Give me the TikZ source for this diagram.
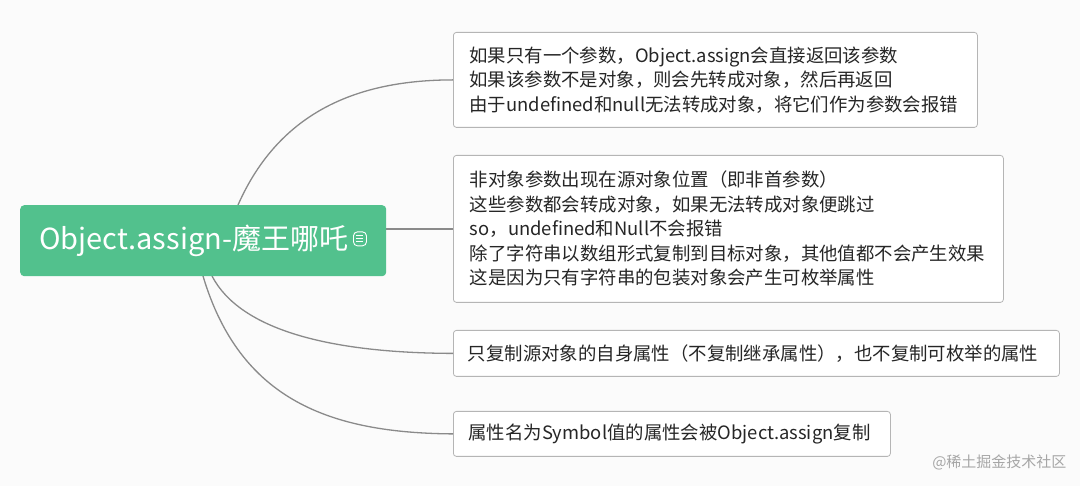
\documentclass[tikz,border=0pt]{standalone}
\usepackage{fontspec}
\setmainfont{Noto Sans CJK SC}
\definecolor{rootg}{HTML}{52C18D}
\definecolor{edge}{HTML}{8A8A8A}
\definecolor{bord}{HTML}{B5B5B5}
\begin{document}
\begin{tikzpicture}[x=1pt,y=-1pt,
  leaf/.style={draw=bord,line width=0.8pt,rounded corners=3pt,fill=white,anchor=north west,align=left,inner sep=0pt,font=\fontsize{18.4}{24.5}\selectfont,text=black!85},
  conn/.style={draw=edge,line width=1.3pt}]
\fill[white!97!gray] (0,0) rectangle (1080,486);
\node[leaf,minimum width=524pt,minimum height=95pt] (b1) at (453,32) {\hspace*{13pt}\parbox{505pt}{如果只有一个参数，Object.assign会直接返回该参数\\如果该参数不是对象，则会先转成对象，然后再返回\\由于undefined和null无法转成对象，将它们作为参数会报错}};
\node[leaf,minimum width=550pt,minimum height=147pt] (b2) at (453,155) {\hspace*{13pt}\parbox{530pt}{非对象参数出现在源对象位置（即非首参数）\\这些参数都会转成对象，如果无法转成对象便跳过\\so，undefined和Null不会报错\\除了字符串以数组形式复制到目标对象，其他值都不会产生效果\\这是因为只有字符串的包装对象会产生可枚举属性}};
\node[leaf,minimum width=606pt,minimum height=46pt] (b3) at (453,330) {\hspace*{13pt}\parbox{590pt}{只复制源对象的自身属性（不复制继承属性），也不复制可枚举的属性}};
\node[leaf,minimum width=437pt,minimum height=45pt] (b4) at (453,411) {\hspace*{13pt}\parbox{420pt}{属性名为Symbol值的属性会被Object.assign复制}};
\coordinate (s1) at (238,205);
\coordinate (s3) at (212,276);
\coordinate (s4) at (203,276);
\draw[conn] (s1) .. controls (280,110) and (360,80) .. (b1.west);
\draw[conn] (386,229) -- (453,229);
\draw[conn] (s3) .. controls (240,330) and (330,353) .. (b3.west);
\draw[conn] (s4) .. controls (240,400) and (330,433) .. (b4.west);
\node[fill=rootg,rounded corners=4pt,minimum width=366pt,minimum height=71pt,anchor=north west,text=white,font=\fontsize{29}{32}\selectfont] (root) at (20,205) {Object.assign-魔王哪吒\,\raisebox{3pt}{\tikz[x=1pt,y=1pt]{\draw[white,line width=0.9pt] (0,0) rectangle (13,14);\draw[white,line width=0.9pt] (3,4)--(10,4) (3,7)--(10,7) (3,10)--(10,10);}}};
\node[anchor=east,text=gray!70,font=\fontsize{15}{18}\selectfont] (wm) at (1070,462) {@稀土掘金技术社区};
\end{tikzpicture}
\end{document}
